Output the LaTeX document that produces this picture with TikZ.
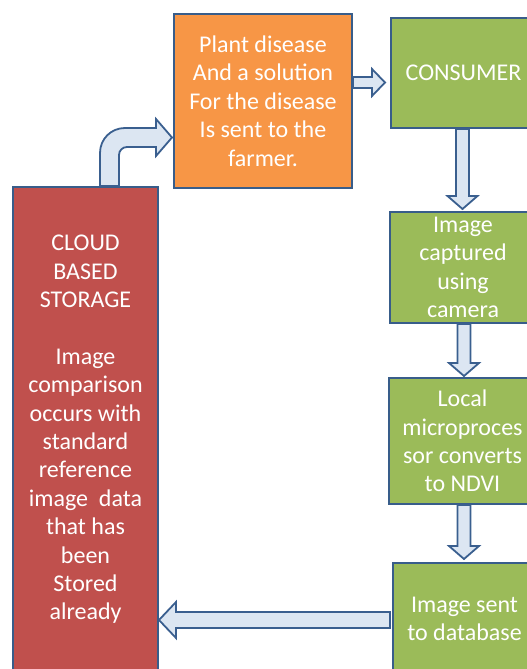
\documentclass[tikz,border=0pt]{standalone}
\usepackage{fontspec}
\setmainfont{Carlito}
\usetikzlibrary{calc}
\definecolor{borderblue}{HTML}{385D8A}
\definecolor{arrowfill}{HTML}{DCE6F2}
\definecolor{arrowline}{HTML}{3A5F8F}
\definecolor{orangebox}{HTML}{F79646}
\definecolor{greenbox}{HTML}{9BBB59}
\definecolor{redbox}{HTML}{C0504D}
\newcommand{\vbarrow}[2]{%
  \draw[barrow] ($(#1)+(-6.5,0)$) -- ($(#2)+(-6.5,-13)$) -- ($(#2)+(-15,-13)$) -- (#2)
    -- ($(#2)+(15,-13)$) -- ($(#2)+(6.5,-13)$) -- ($(#1)+(6.5,0)$) -- cycle;}
\begin{document}
\begin{tikzpicture}[x=1pt,y=-1pt,
  box/.style={draw=borderblue, line width=2pt, text=white, align=center,
    font=\fontsize{24}{28.4}\selectfont, inner sep=0pt, anchor=north west},
  barrow/.style={draw=arrowline, fill=arrowfill, line width=1.8pt, line join=miter}]
\useasboundingbox (0,0) rectangle (527,669);
\clip (0,0) rectangle (527,669);
% boxes
\node[box, fill=redbox, minimum width=145pt, minimum height=485pt] (cloud) at (12,186)
  {CLOUD\\BASED\\STORAGE\\[28.4pt]Image\\comparison\\occurs with\\standard\\reference\\image~ data\\that has\\been\\Stored\\already};
\node[box, fill=orangebox, minimum width=178pt, minimum height=174pt] (orange) at (173,13)
  {Plant disease\\And a solution\\For the disease\\Is sent to the\\farmer.};
\node[box, fill=greenbox, minimum width=145pt, minimum height=110pt] (consumer) at (390,17)
  {CONSUMER};
\node[box, fill=greenbox, minimum width=146pt, minimum height=111pt] (captured) at (389,211)
  {Image\\captured\\using\\camera};
\node[box, fill=greenbox, minimum width=147pt, minimum height=126pt] (local) at (388,377)
  {Local\\microproces\\sor converts\\to NDVI};
\node[box, fill=greenbox, minimum width=143pt, minimum height=112pt] (sent) at (392,562)
  {Image sent\\to database};
% arrow orange -> consumer
\coordinate (a1) at (orange.east |- 0,82.5);
\coordinate (a2) at ($(consumer.west |- a1)+(-5,0)$);
\draw[barrow] ($(a1)+(0,-5.5)$) -- ($(a2)+(-13,-5.5)$) -- ($(a2)+(-13,-13.5)$) -- (a2)
  -- ($(a2)+(-13,13.5)$) -- ($(a2)+(-13,5.5)$) -- ($(a1)+(0,5.5)$) -- cycle;
% down arrows
\coordinate (d1s) at (462.5,0 |- consumer.south);
\coordinate (d1e) at ($(462.5,0 |- captured.north)+(0,-2)$);
\vbarrow{d1s}{d1e}
\coordinate (d2s) at (464,0 |- captured.south);
\coordinate (d2e) at ($(464,0 |- local.north)+(0,-1)$);
\vbarrow{d2s}{d2e}
\coordinate (d3s) at (464,0 |- local.south);
\coordinate (d3e) at ($(464,0 |- sent.north)+(0,-3)$);
\vbarrow{d3s}{d3e}
% arrow sent -> cloud
\coordinate (l1) at ($(sent.west |- 0,620)+(-2,0)$);
\coordinate (l2) at (cloud.east |- 0,620);
\draw[barrow] ($(l1)+(0,-8)$) -- ($(l2)+(17,-8)$) -- ($(l2)+(17,-18)$) -- (l2)
  -- ($(l2)+(17,18)$) -- ($(l2)+(17,8)$) -- ($(l1)+(0,8)$) -- cycle;
% bent arrow cloud -> orange
\coordinate (c1) at (109.5,0 |- cloud.north);
\coordinate (c2) at ($(orange.west |- 0,137.5)+(-1,0)$);
\draw[barrow] ($(c1)+(-9.5,0)$) -- (100,153) .. controls (100,139) and (111,128) .. (125,128)
  -- (156,128) -- (156,119) -- (c2) -- (156,156) -- (156,147) -- (127,147)
  .. controls (122.6,147) and (119,150.6) .. (119,155) -- ($(c1)+(9.5,0)$) -- cycle;
\end{tikzpicture}
\end{document}
